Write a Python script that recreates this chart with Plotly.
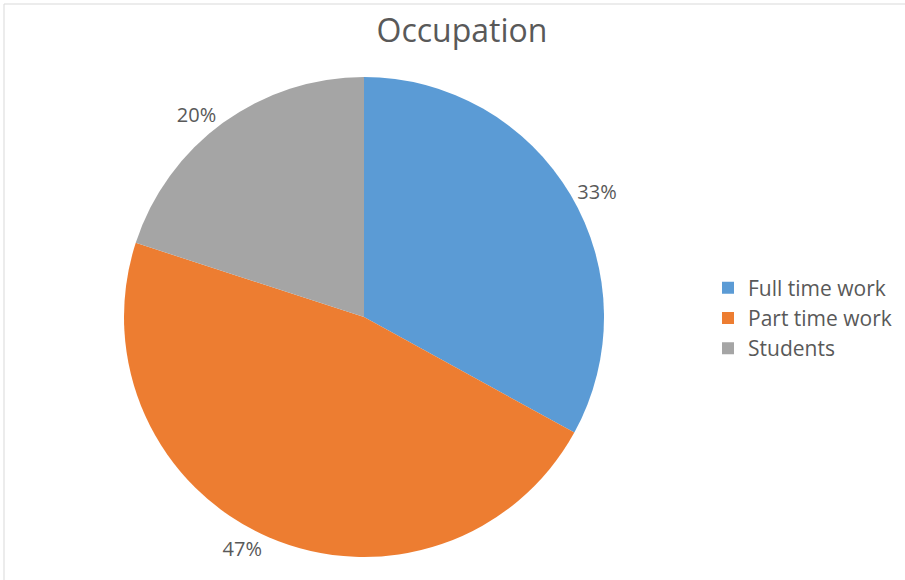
import plotly.graph_objects as go

labels = ["Full time work", "Part time work", "Students"]
values = [33, 47, 20]
colors = ["#5B9BD5", "#ED7D31", "#A5A5A5"]

W, H = 905, 580
cx, cy, r = 364, 317, 240

fig = go.Figure(go.Pie(
    labels=labels,
    values=values,
    sort=False,
    direction="clockwise",
    rotation=0,
    marker=dict(colors=colors, line=dict(width=0)),
    textinfo="percent",
    texttemplate="%{percent:.0%}",
    textposition="outside",
    textfont=dict(size=20, color="#595959", family="Open Sans"),
    domain=dict(x=[(cx - r) / W, (cx + r) / W], y=[(H - cy - r) / H, (H - cy + r) / H]),
    hoverinfo="label+percent",
))

fig.update_layout(
    width=W, height=H,
    margin=dict(l=0, r=0, t=0, b=0),
    paper_bgcolor="white",
    font=dict(family="Open Sans", color="#595959"),
    title=dict(text="Occupation", x=462 / W, xanchor="center", y=1 - 31 / H, yanchor="middle",
               font=dict(size=32, color="#595959", family="Open Sans")),
    legend=dict(x=708 / W, xanchor="left", y=1 - 318 / H, yanchor="middle",
                font=dict(size=21, color="#595959", family="Open Sans"),
                itemsizing="constant", tracegroupgap=0),
    shapes=[dict(type="rect", xref="paper", yref="paper",
                 x0=4 / W, x1=1.02, y0=-0.02, y1=1 - 4 / H,
                 line=dict(color="#D9D9D9", width=1), fillcolor="rgba(0,0,0,0)")],
)

fig.write_html("out.html", config={"displayModeBar": False},
               post_script="document.body.style.margin='0px';")
